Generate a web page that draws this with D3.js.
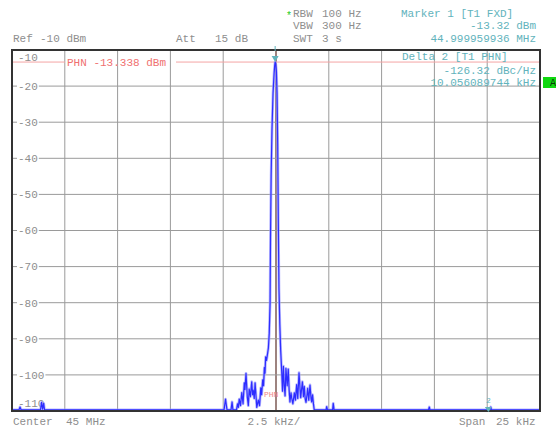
<!DOCTYPE html>
<html>
<head>
<meta charset="utf-8">
<script src="https://cdn.jsdelivr.net/npm/d3@7"></script>
<style>
  html, body { margin: 0; padding: 0; background: #fff; }
  svg { display: block; }
  text { font-family: "Liberation Mono", "DejaVu Sans Mono", monospace; }
</style>
</head>
<body>
<svg id="chart" width="556" height="430"></svg>
<script>
// Trace: frequency offset from 45 MHz centre (kHz) and level (dBm)
const freqKHz = [
  -12.5, -12.17, -12.12, -12.07, -11.15, -11.10, -11.05, -11.00, -10.96,
  -2.46, -2.39, -2.32, -2.13, -2.08, -2.04, -1.87, -1.82, -1.78, -1.74, -1.68,
  -1.62, -1.56, -1.50, -1.47, -1.42, -1.36, -1.31, -1.27, -1.21, -1.15, -1.11,
  -1.08, -1.03, -0.99, -0.91, -0.84, -0.78, -0.72, -0.68, -0.63, -0.59, -0.55,
  -0.52, -0.49, -0.45, -0.41, -0.36, -0.32, -0.28, -0.26, -0.23, -0.19, -0.14,
  -0.09, -0.06, -0.04, -0.01, 0.02, 0.05, 0.08, 0.11, 0.14, 0.18, 0.22, 0.27,
  0.31, 0.35, 0.39, 0.43, 0.47, 0.53, 0.58, 0.62, 0.66, 0.71, 0.74, 0.80, 0.87,
  0.92, 0.98, 1.03, 1.09, 1.14, 1.17, 1.21, 1.25, 1.30, 1.34, 1.38, 1.42, 1.47,
  1.50, 1.55, 1.61, 1.66, 1.69, 1.73, 1.77, 1.81, 2.37, 2.40, 2.44, 2.68, 2.71,
  2.75, 7.22, 7.26, 7.29, 10.13, 10.17, 10.20, 12.5
];
const levelDbm = [
  -109.7, -109.7, -108.9, -109.7, -109.7, -107.6, -109.5, -107.9, -109.7,
  -109.7, -106.7, -109.7, -109.7, -107.5, -109.7, -109.7, -108.0, -109.0, -106.7, -108.5,
  -104.9, -108.0, -102.2, -104.0, -99.6, -106.0, -108.5, -103.9, -106.0, -101.9, -105.5,
  -104.2, -106.5, -102.2, -109.0, -107.0, -108.5, -103.6, -105.5, -101.4, -103.0, -98.0,
  -99.5, -95.0, -96.0, -94.5, -92.5, -88.5, -80.0, -62.0, -45.0, -32.0, -22.0,
  -16.5, -14.2, -13.32, -14.0, -16.0, -22.0, -36.0, -58.0, -76.0, -86.0, -93.0, -99.0,
  -104.5, -97.6, -103.0, -105.8, -98.2, -103.0, -98.4, -104.0, -107.5, -105.0, -106.3, -108.0, -105.0,
  -107.0, -102.7, -106.5, -99.4, -104.0, -106.3, -104.0, -101.9, -106.0, -103.2, -106.5, -107.6, -105.5,
  -103.7, -107.0, -102.8, -106.5, -107.5, -105.5, -107.9, -109.7, -109.7, -108.8, -109.7, -109.7, -107.9,
  -109.7, -109.7, -108.9, -109.7, -109.7, -108.9, -109.7, -109.7
];

// Grid / axis values
const levelTicks = [-10, -20, -30, -40, -50, -60, -70, -80, -90, -100, -110];
const freqTicks = [-12.5, -10, -7.5, -5, -2.5, 0, 2.5, 5, 7.5, 10, 12.5];

// Display line and markers
const phnLevel = -13.338;
const marker1 = { f: -0.040064, level: -13.32 };
const marker2 = { f: 10.056089744 };

const svg = d3.select("#chart");
const x = d3.scaleLinear().domain([-12.5, 12.5]).range([12, 540]);
const y = d3.scaleLinear().domain([-110, -10]).range([411, 50]);

const grey = "#8e8e8e";
const teal = "#62b3bc";
const red = "#f07070";
const fs = 11;

// Header text
function txt(str, px, py, color, opts = {}) {
  return svg.append("text")
    .attr("x", px).attr("y", py)
    .attr("fill", color)
    .attr("font-size", opts.size || fs)
    .attr("text-anchor", opts.anchor || "start")
    .attr("xml:space", "preserve")
    .text(str);
}
txt("Ref", 13, 42, grey);
txt("-10 dBm", 40, 42, grey);
txt("Att", 176, 42, grey);
txt("15 dB", 215, 42, grey);
txt("*", 286, 19, "#22cc22", { size: 10 });
txt("RBW", 293, 17, grey);
txt("100 Hz", 322, 17, grey);
txt("VBW", 293, 29, grey);
txt("300 Hz", 322, 29, grey);
txt("SWT", 293, 42, grey);
txt("3 s", 322, 42, grey);
txt("Marker 1 [T1 FXD]", 401, 17, teal);
txt("-13.32 dBm", 536, 29, teal, { anchor: "end" });
txt("44.999959936 MHz", 536, 42, teal, { anchor: "end" });

// Grid
const grid = svg.append("g");
grid.selectAll("line.v").data(freqTicks.slice(1, -1)).join("line")
  .attr("x1", d => x(d)).attr("x2", d => x(d))
  .attr("y1", y(-10)).attr("y2", y(-110))
  .attr("stroke", d => d === 0 ? "#7d5a55" : "#9a9a9a")
  .attr("stroke-width", d => d === 0 ? 1.5 : 1);
grid.selectAll("line.h").data(levelTicks.slice(1, -1)).join("line")
  .attr("x1", x(-12.5)).attr("x2", x(12.5))
  .attr("y1", d => y(d)).attr("y2", d => y(d))
  .attr("stroke", "#9a9a9a").attr("stroke-width", 1);

// Level labels sit on the grid lines with a white backing
const lab = svg.append("g");
levelTicks.forEach(v => {
  let cy = y(v);
  if (v === -10) cy = y(v) + 7.5;
  if (v === -110) cy = y(v) - 8;
  const t = lab.append("text")
    .attr("x", 18).attr("y", cy + 3.8)
    .attr("fill", grey).attr("font-size", fs)
    .text(v);
  const b = t.node().getBBox();
  lab.insert("rect", "text")
    .attr("x", b.x - 1).attr("y", cy - 4)
    .attr("width", b.width + 2).attr("height", 8)
    .attr("fill", "#fff");
});

// PHN display line with its label
const phnY = y(phnLevel);
svg.append("line").attr("x1", x(-12.5)).attr("x2", 65)
  .attr("y1", phnY).attr("y2", phnY).attr("stroke", "#f4a4a4").attr("stroke-width", 1);
svg.append("line").attr("x1", 176).attr("x2", x(12.5))
  .attr("y1", phnY).attr("y2", phnY).attr("stroke", "#f4a4a4").attr("stroke-width", 1);
txt("PHN -13.338 dBm", 67, phnY + 3.8, red);

// Delta marker readout inside the plot
txt("Delta 2 [T1 PHN]", 402, 60, teal);
txt("-126.32 dBc/Hz", 536, 74, teal, { anchor: "end" });
txt("10.056089744 kHz", 536, 86, teal, { anchor: "end" });
svg.append("rect").attr("x", 543).attr("y", 77).attr("width", 14).attr("height", 11).attr("fill", "#10d810");
txt("A", 550, 86, "#0a3a0a", { size: 10 });

// Small PHN reference label near the carrier
txt("PHN", 264, 397, "#f08888", { size: 8 });

// Trace: a soft underlay and the main line
const pts = freqKHz.map((f, i) => [f, levelDbm[i]]);
const lineGen = d3.line().x(d => x(d[0])).y(d => y(d[1]));
svg.append("path")
  .datum(pts)
  .attr("fill", "none")
  .attr("stroke", "#9d9dff")
  .attr("stroke-opacity", 0.7)
  .attr("stroke-width", 2.8)
  .attr("stroke-linejoin", "round")
  .attr("d", lineGen);
svg.append("path")
  .datum(pts)
  .attr("fill", "none")
  .attr("stroke", "#2d2dff")
  .attr("stroke-width", 1.2)
  .attr("stroke-linejoin", "round")
  .attr("d", lineGen);

// Frame
svg.append("rect")
  .attr("x", x(-12.5)).attr("y", y(-10))
  .attr("width", x(12.5) - x(-12.5)).attr("height", y(-110) - y(-10))
  .attr("fill", "none").attr("stroke", "#333").attr("stroke-width", 2);

// Markers
const m1x = x(marker1.f), m1y = y(marker1.level);
svg.append("path")
  .attr("d", `M${m1x - 3.5},${m1y - 6} L${m1x + 3.5},${m1y - 6} L${m1x},${m1y} Z`)
  .attr("fill", teal);
svg.append("line").attr("x1", m1x).attr("x2", m1x).attr("y1", y(-10) - 4).attr("y2", y(-10) + 1)
  .attr("stroke", teal).attr("stroke-width", 1);
const m2x = x(marker2.f), m2y = y(-110);
svg.append("path")
  .attr("d", `M${m2x - 3.5},${m2y - 4} L${m2x + 3.5},${m2y - 4} L${m2x},${m2y + 1} Z`)
  .attr("fill", teal);
txt("2", m2x, m2y - 8, teal, { size: 8, anchor: "middle" });

// Footer
txt("Center", 13, 425, grey);
txt("45 MHz", 66, 425, grey);
txt("2.5 kHz/", 274, 425, grey, { anchor: "middle" });
txt("Span", 459, 425, grey);
txt("25 kHz", 496, 425, grey);
</script>
</body>
</html>
